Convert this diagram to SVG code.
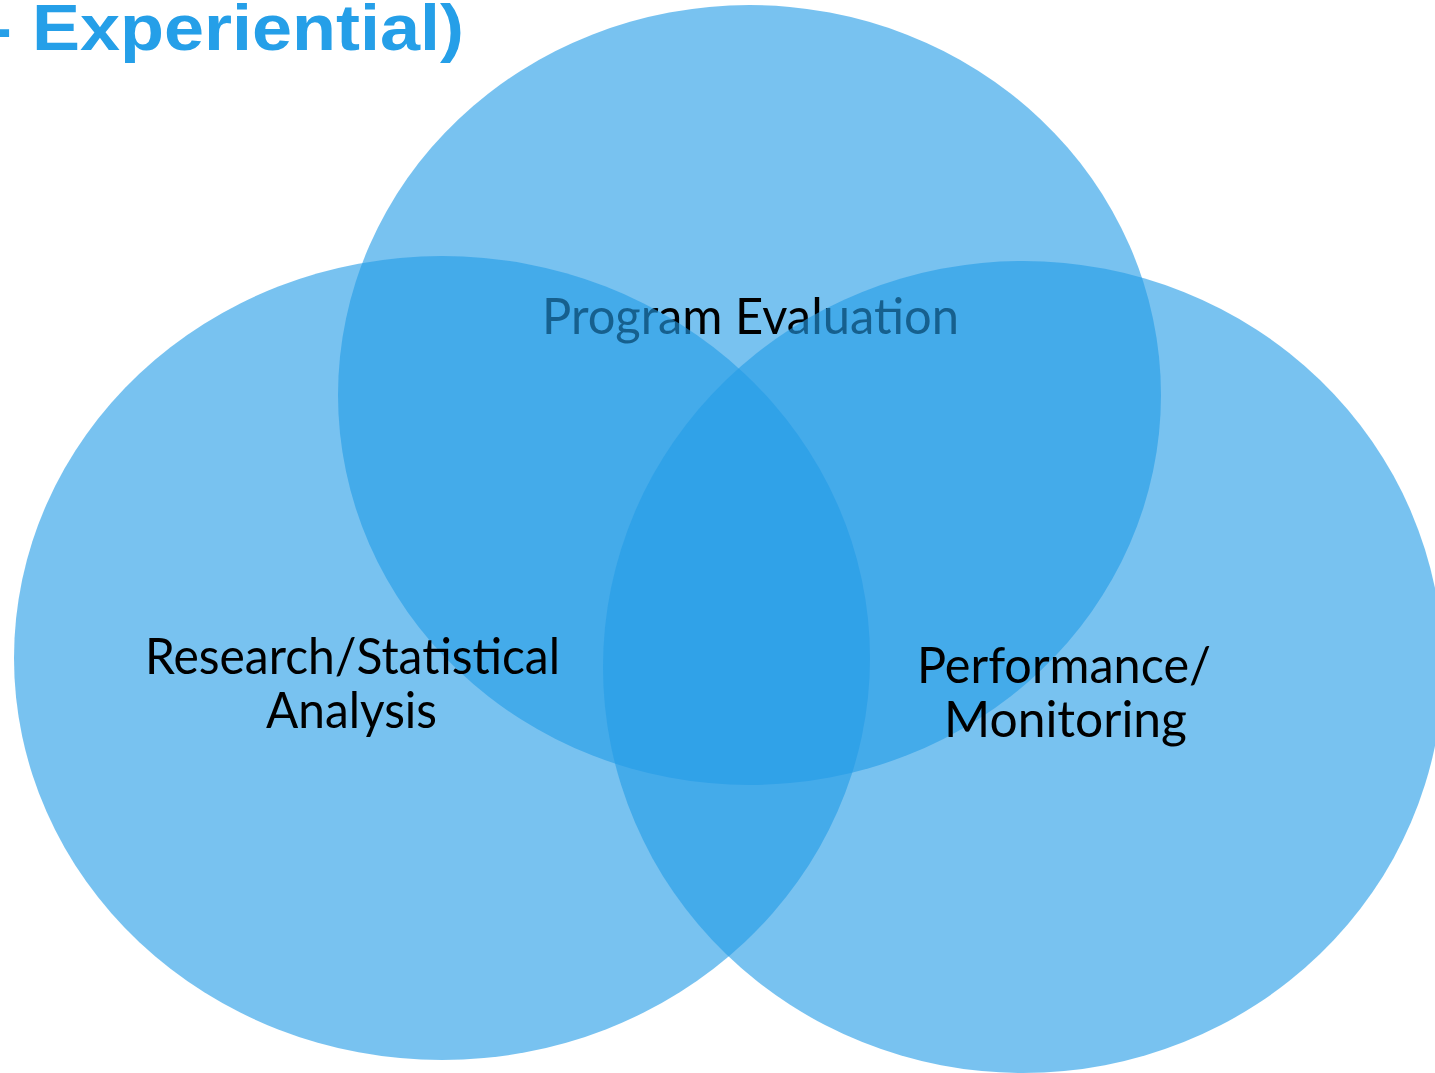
<svg xmlns="http://www.w3.org/2000/svg" width="1435" height="1073" viewBox="0 0 1435 1073">
<style>
.c{fill:#239ce7;fill-opacity:0.615;stroke:none}
.l{font-family:Lato,"Open Sans","Liberation Sans",sans-serif;font-size:51px;fill:#000}
.t{font-family:"Liberation Sans",Arial,sans-serif;font-weight:bold;font-size:64px;fill:#259fe8}
</style>
<rect width="1435" height="1073" fill="#fff"/>
<g id="title"><text class="t" x="-12" y="50" textLength="476" lengthAdjust="spacingAndGlyphs">- Experiential)</text></g>
<g id="program-evaluation">
<ellipse class="c" cx="749.5" cy="395" rx="411.5" ry="390"/>
<text class="l" x="542" y="334" textLength="417" lengthAdjust="spacingAndGlyphs">Program Evaluation</text>
</g>
<g id="research-statistical-analysis">
<ellipse class="c" cx="442" cy="658" rx="428" ry="402"/>
</g>
<g id="performance-monitoring">
<ellipse class="c" cx="1023" cy="667" rx="420" ry="406"/>
</g>
<g id="labels">
<text class="l" x="145" y="674" textLength="415" lengthAdjust="spacingAndGlyphs">Research/Statistical</text>
<text class="l" x="266" y="728" textLength="171" lengthAdjust="spacingAndGlyphs">Analysis</text>
<text class="l" x="917" y="683" textLength="294" lengthAdjust="spacingAndGlyphs">Performance/</text>
<text class="l" x="944" y="737" textLength="243" lengthAdjust="spacingAndGlyphs">Monitoring</text>
</g>
<g id="connectors"/>
</svg>
